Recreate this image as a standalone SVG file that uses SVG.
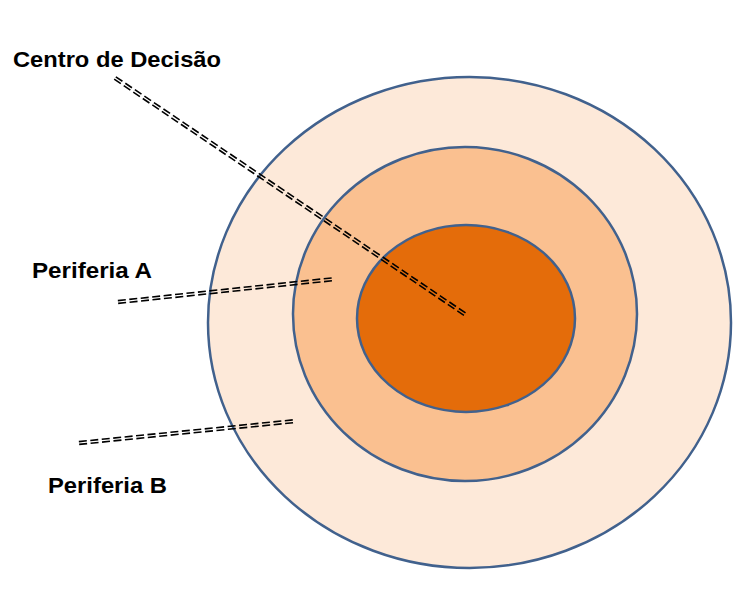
<svg xmlns="http://www.w3.org/2000/svg" width="747" height="601" viewBox="0 0 747 601">
<style>
.ring{stroke:#41618D;stroke-width:2.5}
.lbl{font-family:"Liberation Sans",Arial,sans-serif;font-weight:bold;font-size:22px;fill:#000}
.dash{stroke:#000;stroke-width:1.6;stroke-dasharray:8 3.5;fill:none}
</style>
<rect width="747" height="601" fill="#fff"/>
<g id="periferia-b-ring"><ellipse class="ring" cx="469.5" cy="322.5" rx="261.5" ry="245.5" fill="#FDE9D9"/></g>
<g id="periferia-a-ring"><ellipse class="ring" cx="465" cy="314" rx="172" ry="167" fill="#FAC090"/></g>
<g id="centro-ring"><ellipse class="ring" cx="466" cy="318.5" rx="109" ry="93.5" fill="#E46C0A"/></g>
<g id="connectors">
<line class="dash" x1="114.2" y1="79.2" x2="465.2" y2="316.2"/>
<line class="dash" x1="115.8" y1="76.8" x2="466.8" y2="313.8"/>
<line class="dash" x1="118.15" y1="303.4" x2="335.15" y2="280.4"/>
<line class="dash" x1="117.85" y1="300.6" x2="334.85" y2="277.6"/>
<line class="dash" x1="79.15" y1="444.4" x2="296.15" y2="422.4"/>
<line class="dash" x1="78.85" y1="441.6" x2="295.85" y2="419.6"/>
</g>
<g id="label-centro"><text class="lbl" x="13" y="67" font-size="23" textLength="208" lengthAdjust="spacingAndGlyphs">Centro de Decisão</text></g>
<g id="label-periferia-a"><text class="lbl" x="32" y="278" textLength="120" lengthAdjust="spacingAndGlyphs">Periferia A</text></g>
<g id="label-periferia-b"><text class="lbl" x="48" y="493" textLength="119" lengthAdjust="spacingAndGlyphs">Periferia B</text></g>
</svg>
